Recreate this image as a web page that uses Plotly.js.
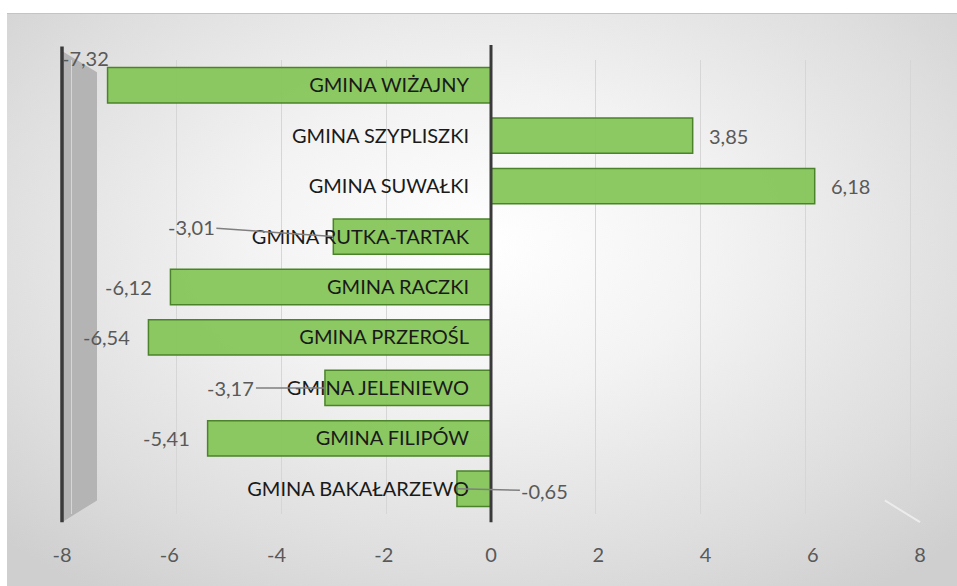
<!DOCTYPE html>
<html>
<head>
<meta charset="utf-8">
<script src="https://cdn.plot.ly/plotly-3.0.1.min.js"></script>
<style>
  html, body { margin: 0; padding: 0; background: #ffffff; }
  #wrap { position: relative; width: 957px; height: 586px; overflow: hidden; }
  #bg { position: absolute; left: 7px; top: 13px; right: 0; bottom: 0;
        background: radial-gradient(ellipse 70% 75% at 50% 40%, #ffffff 0%, #f3f3f3 35%, #dedede 75%, #cfcfcf 100%);
        border-top: 1px solid #c4c4c4; }
  #chart { position: absolute; left: 0; top: 0; width: 957px; height: 586px; }
</style>
</head>
<body>
<div id="wrap">
  <div id="bg"></div>
  <div id="chart"></div>
</div>
<script>
// ---- data ----
const categories = [
  'GMINA WIŻAJNY', 'GMINA SZYPLISZKI', 'GMINA SUWAŁKI', 'GMINA RUTKA-TARTAK',
  'GMINA RACZKI', 'GMINA PRZEROŚL', 'GMINA JELENIEWO', 'GMINA FILIPÓW', 'GMINA BAKAŁARZEWO'
];
const values = [-7.32, 3.85, 6.18, -3.01, -6.12, -6.54, -3.17, -5.41, -0.65];
const tickValues = [-8, -6, -4, -2, 0, 2, 4, 6, 8];
const tickLabels = ['-8', '-6', '-4', '-2', '0', '2', '4', '6', '8'];

// ---- label placement styles (layout only) ----
const labelStyle = {
  'GMINA WIŻAJNY':      { mode: 'above', xshift: -22, yshift: 27 },
  'GMINA RUTKA-TARTAK': { mode: 'leader', ax: -142, ay: -10 },
  'GMINA JELENIEWO':    { mode: 'leader', ax: -94, ay: 0 },
  'GMINA BAKAŁARZEWO':  { mode: 'leader', ax: 88, ay: 2 }
};

function fmt(v) { return v.toFixed(2).replace('.', ','); }

const FONT = 'Lato, "Liberation Sans", sans-serif';
const labelFont = { family: FONT, size: 20, color: '#595959' };

const annotations = categories.map((c, i) => {
  const v = values[i];
  const st = labelStyle[c];
  const base = { x: v, y: c, xref: 'x', yref: 'y', text: fmt(v), font: labelFont };
  if (st && st.mode === 'above') {
    return Object.assign(base, { showarrow: false, xanchor: 'center', yanchor: 'middle', xshift: st.xshift, yshift: st.yshift });
  }
  if (st && st.mode === 'leader') {
    return Object.assign(base, { showarrow: true, arrowhead: 0, arrowwidth: 1.5, arrowcolor: '#7f7f7f',
      ax: st.ax, ay: st.ay, standoff: 0, startstandoff: 0 });
  }
  return Object.assign(base, { showarrow: false, xanchor: v < 0 ? 'right' : 'left', yanchor: 'middle', xshift: v < 0 ? -16 : 14 });
});

const trace = {
  type: 'bar', orientation: 'h',
  y: categories, x: values,
  marker: { color: 'rgba(134,198,90,0.95)', line: { color: '#4b832a', width: 1.5 } },
  hoverinfo: 'x+y', cliponaxis: false
};

// empty helper trace so the bottom tick-label axis (x2) gets drawn
const axisHelper = { type: 'scatter', mode: 'markers', x: [], y: [], xaxis: 'x2', yaxis: 'y', hoverinfo: 'skip', showlegend: false };

const layout = {
  width: 957, height: 586,
  paper_bgcolor: 'rgba(0,0,0,0)', plot_bgcolor: 'rgba(0,0,0,0)',
  margin: { l: 62, r: 37, t: 60, b: 72 },
  separators: ', ',
  showlegend: false,
  bargap: 0.3,
  font: { family: FONT },
  xaxis: {
    range: [-8.19, 8.19], showticklabels: false, ticks: '',
    showgrid: true, gridcolor: '#d6d6d6', gridwidth: 1,
    tickvals: tickValues, zeroline: false, showline: false, fixedrange: true
  },
  xaxis2: {
    overlaying: 'x', anchor: 'y', side: 'bottom',
    range: [-8, 8], tickmode: 'array', tickvals: tickValues, ticktext: tickLabels,
    showgrid: false, zeroline: false, showline: false, ticks: '', showticklabels: true,
    ticklabelstandoff: 27,
    tickfont: { family: FONT, size: 20, color: '#595959' }
  },
  yaxis: {
    type: 'category', autorange: 'reversed',
    anchor: 'free', position: 0.5, side: 'left',
    showgrid: false, zeroline: false, showline: false, ticks: '',
    ticklabelstandoff: 22,
    tickfont: { family: FONT, size: 20, color: '#1a1a1a' },
    fixedrange: true
  },
  annotations: annotations,
  shapes: [
    // left side wall
    { type: 'path', xref: 'paper', yref: 'paper', layer: 'below',
      path: 'M 0 1.02 L 0.0408 0.973 L 0.0408 0.03 L 0 -0.018 Z',
      fillcolor: '#b4b4b4', line: { width: 0 } },
    // left axis line
    { type: 'line', xref: 'paper', yref: 'paper', x0: 0, x1: 0, y0: 1.03, y1: -0.018,
      line: { color: '#3a3a3a', width: 3.5 }, layer: 'above' },
    // zero line
    { type: 'line', xref: 'x', yref: 'paper', x0: 0, x1: 0, y0: 1.033, y1: -0.018,
      line: { color: '#3a3a3a', width: 3 }, layer: 'above' },
    // faint floor edge at right
    { type: 'line', xref: 'paper', yref: 'paper', x0: 0.959, x1: 1, y0: 0.03, y1: -0.018,
      line: { color: '#ececec', width: 2 }, layer: 'below' }
  ]
};

Plotly.newPlot('chart', [trace, axisHelper], layout, { displayModeBar: false, staticPlot: true });
</script>
</body>
</html>
